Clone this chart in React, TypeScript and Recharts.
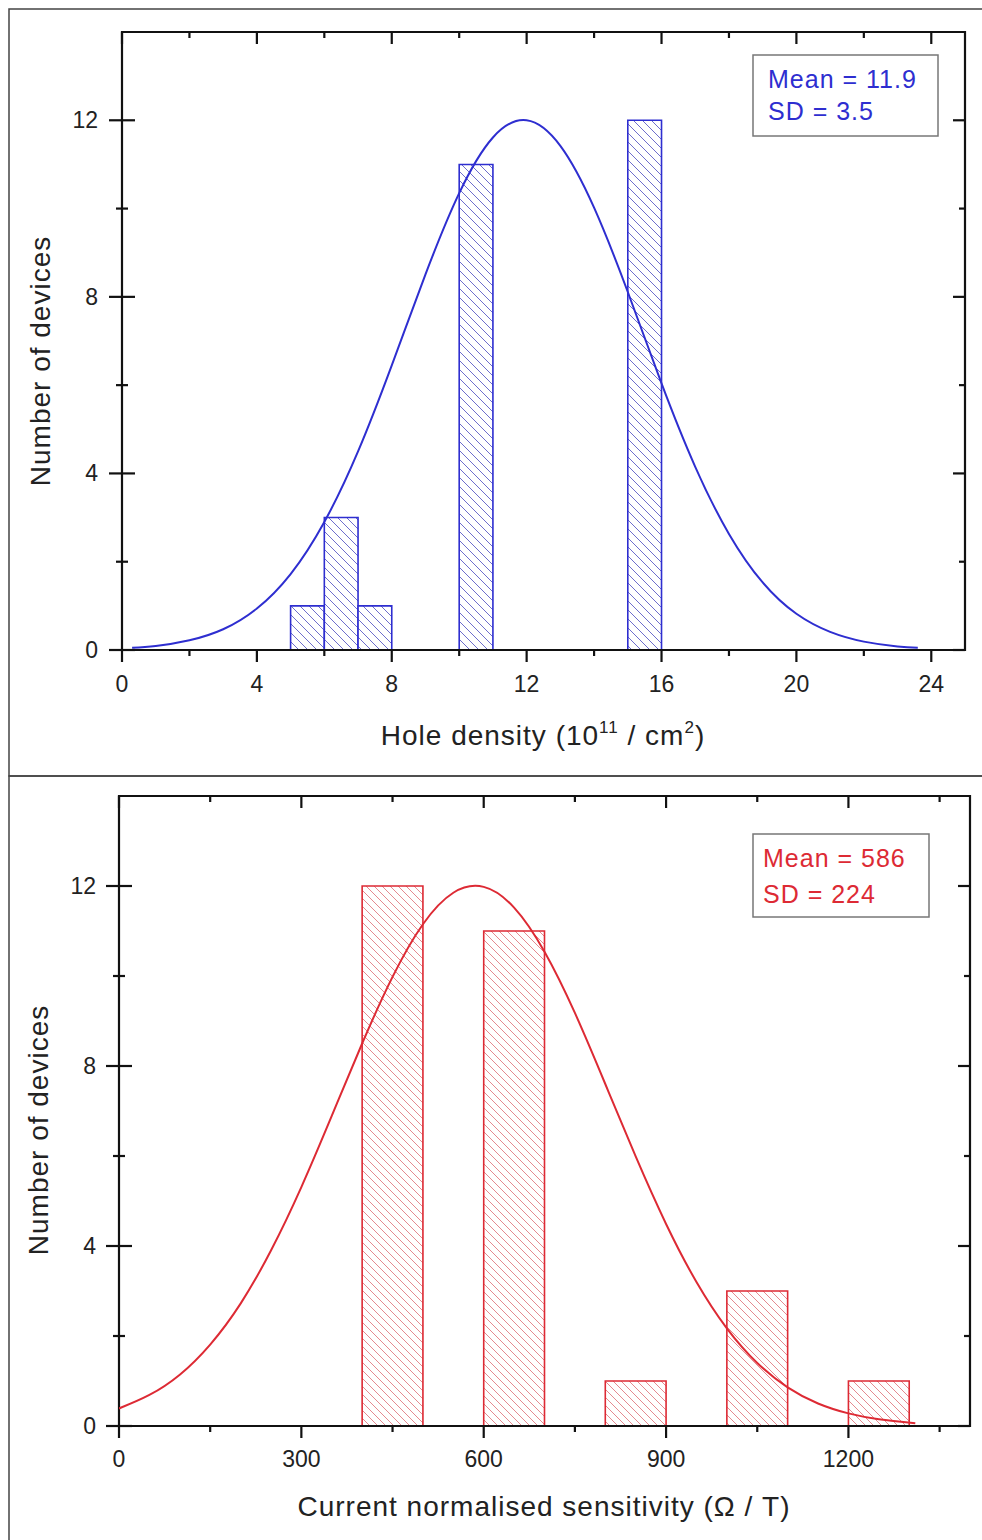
import React from 'react';
import { ComposedChart, Line, XAxis, YAxis, ReferenceArea } from 'recharts';

// Hole density histogram (10^11 / cm^2)
const holeBinStart = [5, 6, 7, 10, 15];
const holeBinEnd = [6, 7, 8, 11, 16];
const holeCounts = [1, 3, 1, 11, 12];
// Gaussian fit (Mean = 11.9, SD = 3.5)
const holeFitX = [0.3, 1, 2, 3, 4, 5, 6, 7, 8, 9, 10, 11, 12, 13, 14, 15, 16, 17, 18, 19, 20, 21, 22, 23, 23.6];
const holeFitY = [0.05, 0.09, 0.22, 0.47, 0.94, 1.72, 2.9, 4.5, 6.45, 8.51, 10.35, 11.61, 12.0, 11.42, 10.02, 8.11, 6.04, 4.15, 2.63, 1.53, 0.82, 0.41, 0.19, 0.08, 0.05];
const holeTicks = [0, 2, 4, 6, 8, 10, 12, 14, 16, 18, 20, 22, 24];
const holeMajor = [0, 4, 8, 12, 16, 20, 24];

// Current normalised sensitivity histogram (Ω / T)
const sensBinStart = [400, 600, 800, 1000, 1200];
const sensBinEnd = [500, 700, 900, 1100, 1300];
const sensCounts = [12, 11, 1, 3, 1];
// Gaussian fit (Mean = 586, SD = 224)
const sensFitX = [0, 50, 100, 150, 200, 250, 300, 350, 400, 450, 500, 550, 600, 650, 700, 750, 800, 850, 900, 950, 1000, 1050, 1100, 1150, 1200, 1250, 1310];
const sensFitY = [0.39, 0.69, 1.14, 1.81, 2.72, 3.9, 5.31, 6.89, 8.5, 9.98, 11.15, 11.85, 11.98, 11.52, 10.54, 9.18, 7.6, 5.99, 4.49, 3.2, 2.17, 1.4, 0.86, 0.5, 0.28, 0.15, 0.06];
const sensTicks = [0, 150, 300, 450, 600, 750, 900, 1050, 1200, 1350];
const sensMajor = [0, 300, 600, 900, 1200];

const yTicks = [0, 2, 4, 6, 8, 10, 12];
const yMajor = [0, 4, 8, 12];

const FONT = '"Liberation Sans", Arial, sans-serif';
const AXIS = '#111';
const TEXT = '#222';

const holeFit = holeFitX.map((x, i) => ({ x, y: holeFitY[i] }));
const sensFit = sensFitX.map((x, i) => ({ x, y: sensFitY[i] }));

// tick renderers - recharts gives us the axis position, we draw the marks ourselves
const bottomTick = (major: number[], labelDy: number) => (props: any) => {
  const { x, y, payload } = props;
  const isMajor = major.includes(payload.value);
  return (
    <g>
      <line x1={x} x2={x} y1={y - 1} y2={y + (isMajor ? 12 : 6)} stroke={AXIS} strokeWidth={2.2} />
      {isMajor && (
        <text x={x} y={y + labelDy} textAnchor="middle" fontSize={23} fill={TEXT} fontFamily={FONT}>
          {payload.value}
        </text>
      )}
    </g>
  );
};

const topTick = (major: number[]) => (props: any) => {
  const { x, y, payload } = props;
  const isMajor = major.includes(payload.value);
  return <line x1={x} x2={x} y1={y} y2={y + (isMajor ? 12 : 6)} stroke={AXIS} strokeWidth={2.2} />;
};

const leftTick = (labelDx: number) => (props: any) => {
  const { x, y, payload } = props;
  const isMajor = yMajor.includes(payload.value);
  const len = isMajor ? 13 : 6;
  return (
    <g>
      <line x1={x - len} x2={x + len} y1={y} y2={y} stroke={AXIS} strokeWidth={2.2} />
      {isMajor && (
        <text x={x - labelDx} y={y + 8} textAnchor="end" fontSize={23} fill={TEXT} fontFamily={FONT}>
          {payload.value}
        </text>
      )}
    </g>
  );
};

const rightTick = (props: any) => {
  const { x, y, payload } = props;
  const isMajor = yMajor.includes(payload.value);
  return <line x1={x} x2={x - (isMajor ? 12 : 6)} y1={y} y2={y} stroke={AXIS} strokeWidth={2.2} />;
};

const hatch = (id: string, color: string, step: number) => (
  <defs>
    <pattern id={id} patternUnits="userSpaceOnUse" width={step} height={step}>
      <rect width={step} height={step} fill="#fff" />
      <path
        d={`M0,0 L${step},${step} M-1,${step - 1} L1,${step + 1} M${step - 1},-1 L${step + 1},1`}
        stroke={color}
        strokeWidth={1}
      />
    </pattern>
  </defs>
);

interface HistProps {
  fit: { x: number; y: number }[];
  starts: number[];
  ends: number[];
  counts: number[];
  xMax: number;
  ticks: number[];
  major: number[];
  color: string;
  hatchColor: string;
  hatchStep: number;
  patternId: string;
  width: number;
  height: number;
  margin: { top: number; right: number; bottom: number; left: number };
  labelDy: number;
  labelDx: number;
}

// axes are 1px thick (recharts skips an axis with zero size), margins are trimmed by 1 to compensate
function Histogram(p: HistProps) {
  return (
    <ComposedChart width={p.width} height={p.height} data={p.fit} margin={p.margin}>
      {hatch(p.patternId, p.hatchColor, p.hatchStep)}
      <XAxis
        dataKey="x"
        type="number"
        domain={[0, p.xMax]}
        allowDataOverflow
        ticks={p.ticks}
        interval={0}
        height={1}
        tickSize={0}
        tickMargin={0}
        tickLine={false}
        axisLine={false}
        tick={bottomTick(p.major, p.labelDy)}
      />
      <XAxis
        xAxisId="top"
        orientation="top"
        dataKey="x"
        type="number"
        domain={[0, p.xMax]}
        allowDataOverflow
        ticks={p.ticks}
        interval={0}
        height={1}
        tickSize={0}
        tickMargin={0}
        tickLine={false}
        axisLine={false}
        tick={topTick(p.major)}
      />
      <YAxis
        type="number"
        domain={[0, 14]}
        allowDataOverflow
        ticks={yTicks}
        interval={0}
        width={1}
        tickSize={0}
        tickMargin={0}
        tickLine={false}
        axisLine={false}
        tick={leftTick(p.labelDx)}
      />
      <YAxis
        yAxisId="right"
        orientation="right"
        type="number"
        domain={[0, 14]}
        allowDataOverflow
        ticks={yTicks}
        interval={0}
        width={1}
        tickSize={0}
        tickMargin={0}
        tickLine={false}
        axisLine={false}
        tick={rightTick}
      />
      {p.starts.map((s, i) => (
        <ReferenceArea
          key={i}
          x1={s}
          x2={p.ends[i]}
          y1={0}
          y2={p.counts[i]}
          fill={`url(#${p.patternId})`}
          fillOpacity={1}
          stroke={p.color}
          strokeWidth={1.6}
        />
      ))}
      <Line
        type="natural"
        dataKey="y"
        stroke={p.color}
        strokeWidth={2}
        dot={false}
        isAnimationActive={false}
      />
      {/* plot frame on the scale extremes */}
      <ReferenceArea
        x1={0}
        x2={p.xMax}
        y1={0}
        y2={14}
        fill="none"
        fillOpacity={0}
        stroke={AXIS}
        strokeWidth={2.2}
      />
    </ComposedChart>
  );
}

export default function App() {
  return (
    <div style={{ position: 'absolute', left: 0, top: 0, width: 982, height: 1540, background: '#fff', fontFamily: FONT }}>
      <div style={{ position: 'absolute', left: 0, top: 0 }}>
        <Histogram
          fit={holeFit}
          starts={holeBinStart}
          ends={holeBinEnd}
          counts={holeCounts}
          xMax={25}
          ticks={holeTicks}
          major={holeMajor}
          color="#2e2ed0"
          hatchColor="#6e6ecc"
          hatchStep={9}
          patternId="hatchBlue"
          width={982}
          height={776}
          margin={{ top: 31, right: 16, bottom: 125, left: 121 }}
          labelDy={42}
          labelDx={24}
        />
      </div>
      <div style={{ position: 'absolute', left: 0, top: 776 }}>
        <Histogram
          fit={sensFit}
          starts={sensBinStart}
          ends={sensBinEnd}
          counts={sensCounts}
          xMax={1400}
          ticks={sensTicks}
          major={sensMajor}
          color="#dd2a34"
          hatchColor="#e48a90"
          hatchStep={8}
          patternId="hatchRed"
          width={982}
          height={764}
          margin={{ top: 19, right: 11, bottom: 113, left: 118 }}
          labelDy={41}
          labelDx={23}
        />
      </div>
      <svg width={982} height={1540} style={{ position: 'absolute', left: 0, top: 0, pointerEvents: 'none' }}>
        {/* panel frames */}
        <rect x={9} y={9} width={990} height={767} fill="none" stroke="#444" strokeWidth={1.5} />
        <rect x={9} y={776} width={990} height={780} fill="none" stroke="#444" strokeWidth={1.5} />

        {/* axis titles */}
        <text x={543} y={745} textAnchor="middle" fontSize={28} letterSpacing={1} fill={TEXT} fontFamily={FONT}>
          Hole density (10<tspan dy={-12} fontSize={17}>11</tspan>
          <tspan dy={12}> / cm</tspan>
          <tspan dy={-12} fontSize={17}>2</tspan>
          <tspan dy={12}>)</tspan>
        </text>
        <text x={0} y={0} transform="translate(50 361) rotate(-90)" textAnchor="middle" fontSize={28} letterSpacing={1} fill={TEXT} fontFamily={FONT}>
          Number of devices
        </text>
        <text x={544} y={1516} textAnchor="middle" fontSize={28} letterSpacing={1} fill={TEXT} fontFamily={FONT}>
          Current normalised sensitivity (Ω / T)
        </text>
        <text x={0} y={0} transform="translate(48 1130) rotate(-90)" textAnchor="middle" fontSize={28} letterSpacing={1} fill={TEXT} fontFamily={FONT}>
          Number of devices
        </text>

        {/* fit statistics boxes */}
        <rect x={753} y={55} width={185} height={81} fill="#fff" stroke="#777" strokeWidth={1.5} />
        <text x={768} y={88} fontSize={25} letterSpacing={1} fill="#2e2ed0" fontFamily={FONT}>Mean = 11.9</text>
        <text x={768} y={120} fontSize={25} letterSpacing={1} fill="#2e2ed0" fontFamily={FONT}>SD = 3.5</text>
        <rect x={753} y={834} width={176} height={83} fill="#fff" stroke="#777" strokeWidth={1.5} />
        <text x={763} y={867} fontSize={25} letterSpacing={1} fill="#dd2a34" fontFamily={FONT}>Mean = 586</text>
        <text x={763} y={903} fontSize={25} letterSpacing={1} fill="#dd2a34" fontFamily={FONT}>SD = 224</text>
      </svg>
    </div>
  );
}
